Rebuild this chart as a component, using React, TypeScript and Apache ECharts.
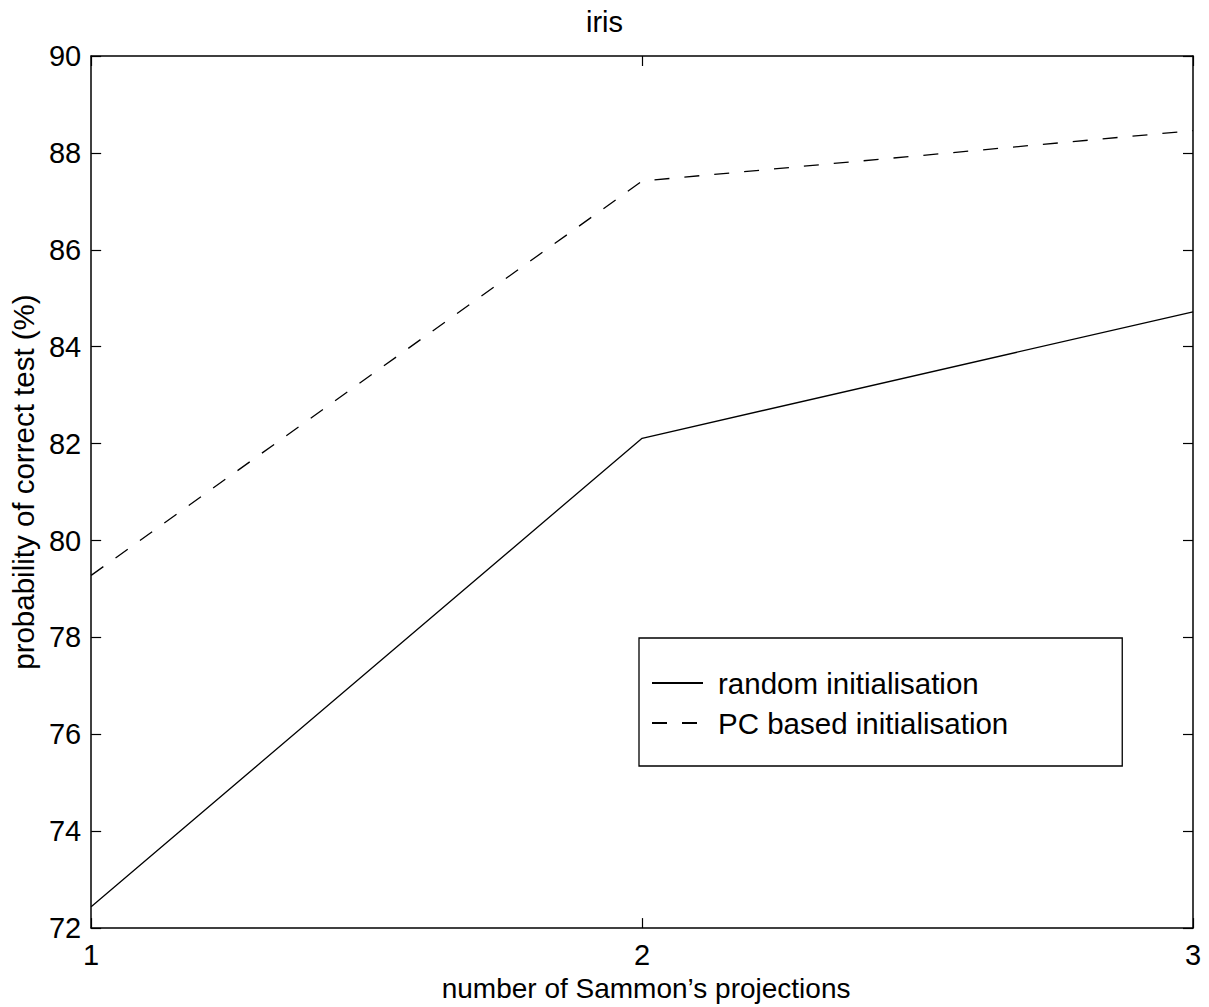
import React, { useEffect, useRef } from "react";
import * as echarts from "echarts";

const xValues = [1, 2, 3];
const randomInit = [72.44, 82.11, 84.72];
const pcInit = [79.28, 87.42, 88.46];
const seriesNames = ["random initialisation", "PC based initialisation"];

const FONT = "Liberation Sans, Arial, sans-serif";

export default function App() {
  const ref = useRef<HTMLDivElement>(null);
  useEffect(() => {
    if (!ref.current) return;
    const chart = echarts.init(ref.current, null, { renderer: "svg" });
    const axisLine = { show: true, lineStyle: { color: "#000", width: 1.5 } };
    const tick = { show: true, inside: true, length: 10, lineStyle: { color: "#000", width: 1.2 } };
    const label = { color: "#000", fontSize: 29, fontFamily: FONT };
    chart.setOption({
      animation: false,
      backgroundColor: "#fff",
      textStyle: { fontFamily: FONT },
      title: {
        text: "iris",
        left: "center",
        top: 2,
        textStyle: { color: "#000", fontSize: 29, fontWeight: "normal", fontFamily: FONT },
      },
      grid: { left: 87, right: 16, top: 56, bottom: 78 },
      legend: {
        orient: "vertical",
        left: 639,
        top: 638,
        data: seriesNames,
        itemWidth: 51,
        itemHeight: 14,
        itemGap: 10,
        padding: [30, 114, 28, 12],
        borderColor: "#000",
        borderWidth: 1.3,
        itemStyle: { opacity: 0 },
        textStyle: { color: "#000", fontSize: 29.5, fontFamily: FONT, padding: [0, 0, 0, 10] },
      },
      xAxis: [
        {
          type: "value",
          min: 1,
          max: 3,
          interval: 1,
          position: "bottom",
          name: "number of Sammon\u2019s projections",
          nameLocation: "middle",
          nameGap: 40,
          nameTextStyle: { color: "#000", fontSize: 28, fontFamily: FONT, padding: [0, 0, 0, 8] },
          axisLine,
          axisTick: tick,
          axisLabel: { ...label, margin: 12 },
          splitLine: { show: false },
        },
        {
          type: "value",
          min: 1,
          max: 3,
          interval: 1,
          position: "top",
          axisLine,
          axisTick: tick,
          axisLabel: { show: false },
          splitLine: { show: false },
        },
      ],
      yAxis: [
        {
          type: "value",
          min: 72,
          max: 90,
          interval: 2,
          position: "left",
          name: "probability of correct test (%)",
          nameLocation: "middle",
          nameGap: 45,
          nameTextStyle: { color: "#000", fontSize: 29.5, fontFamily: FONT, padding: [0, 0, 0, 20] },
          axisLine,
          axisTick: tick,
          axisLabel: { ...label, margin: 10 },
          splitLine: { show: false },
        },
        {
          type: "value",
          min: 72,
          max: 90,
          interval: 2,
          position: "right",
          axisLine,
          axisTick: tick,
          axisLabel: { show: false },
          splitLine: { show: false },
        },
      ],
      series: [
        {
          name: seriesNames[0],
          type: "line",
          data: xValues.map((x, i) => [x, randomInit[i]]),
          symbol: "none",
          lineStyle: { color: "#000", width: 1.3, type: "solid" },
          itemStyle: { color: "#000" },
        },
        {
          name: seriesNames[1],
          type: "line",
          data: xValues.map((x, i) => [x, pcInit[i]]),
          symbol: "none",
          lineStyle: { color: "#000", width: 1.3, type: [15, 15] },
          itemStyle: { color: "#000" },
        },
      ],
    });
    return () => chart.dispose();
  }, []);
  return (
    <div
      ref={ref}
      style={{ position: "absolute", left: 0, top: 0, width: 1209, height: 1007, background: "#fff" }}
    />
  );
}
